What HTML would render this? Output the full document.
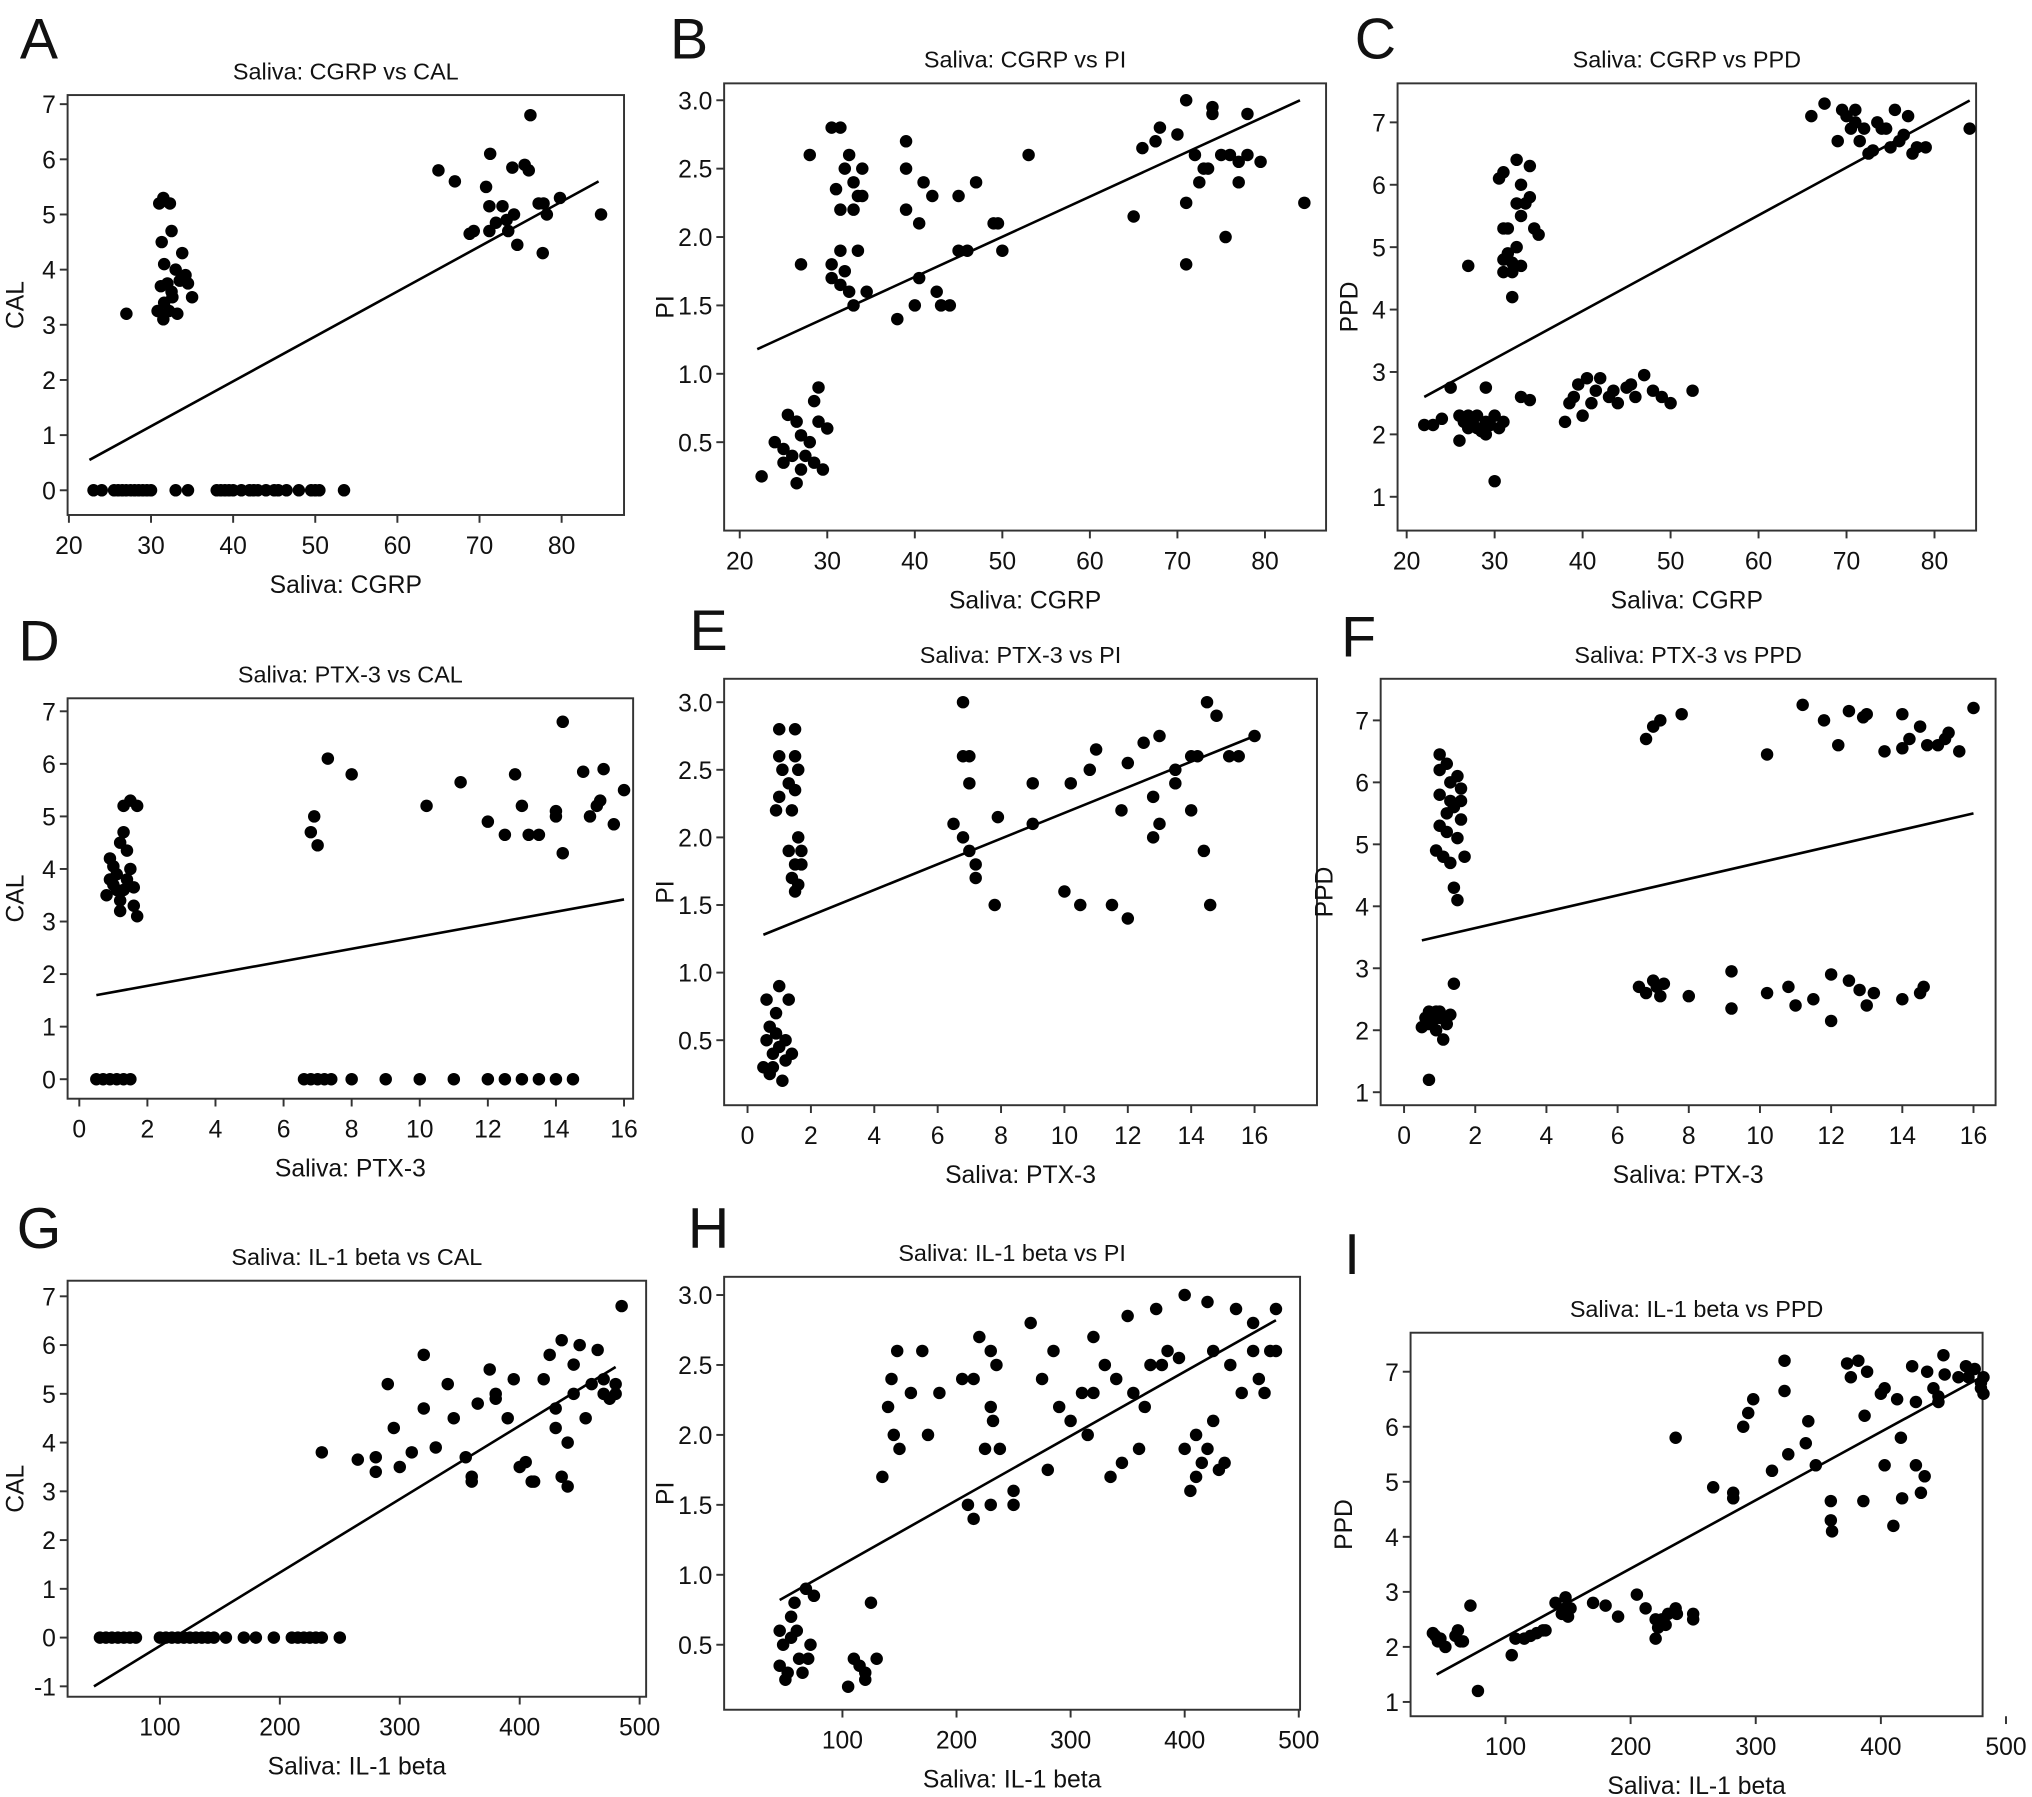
<!DOCTYPE html>
<html><head><meta charset="utf-8"><style>
html,body{margin:0;padding:0;background:#fff}
svg{display:block}
text{font-family:"Liberation Sans",Arial,sans-serif;fill:#111}
</style></head><body>
<svg id="fig" width="2032" height="1797" viewBox="0 0 1563 1382" xmlns="http://www.w3.org/2000/svg"></svg>
<script>
// ---- data ----
const aX=[23,24,25.5,26,26.5,27,27.5,28,28.5,29,29.5,30,33,34.5,38,38.5,39,39.5,40,41,42,42.5,43,44,45,45.5,46.5,48,49.5,50,50.5,53.5,27,31,31.5,32.3,32.5,31.3,31.6,33.8,33,34.2,31.2,32,32.5,33.5,34.5,35,32.6,31.6,30.8,31.5,32.2,33.2,65,67,70.8,71.3,74,75.5,76,76.2,71.2,72.8,73.3,74.2,72,68.8,69.3,71.2,73.5,74.6,77.2,77.8,79.8,78.2,77.7,84.8];
const aY=[0,0,0,0,0,0,0,0,0,0,0,0,0,0,0,0,0,0,0,0,0,0,0,0,0,0,0,0,0,0,0,0,3.2,5.2,5.3,5.2,4.7,4.5,4.1,4.3,4.0,3.9,3.7,3.75,3.6,3.8,3.75,3.5,3.5,3.4,3.25,3.1,3.25,3.2,5.8,5.6,5.5,6.1,5.85,5.9,5.8,6.8,5.15,5.15,4.9,5.0,4.85,4.65,4.7,4.7,4.7,4.45,5.2,5.2,5.3,5.0,4.3,5.0];
const bX=[22.5,24,25,25.5,26,26.5,27,27,27.5,28,28.5,28.5,29,29,29.5,30,25,26.5,27,28,30.5,31.5,31,31.5,32,32.5,33,33.5,34,33,30.5,30.5,31.5,32,32.5,31.5,33,34.5,34,33.5,38,39,39,39,40,40.5,40.5,41,42,42.5,43,44,45,45,46,47,49,49.5,50,53,65,66,67.5,68,70,71,71,71,72,72.5,73,73.5,74,74,75,75.5,76,77,77,78,78,79.5,84.5];
const bY=[0.25,0.5,0.35,0.7,0.4,0.2,0.3,0.55,0.4,0.5,0.35,0.8,0.9,0.65,0.3,0.6,0.45,0.65,1.8,2.6,2.8,2.8,2.35,2.2,2.5,2.6,2.4,2.3,2.5,2.2,1.8,1.7,1.9,1.75,1.6,1.65,1.5,1.6,2.3,1.9,1.4,2.5,2.7,2.2,1.5,2.1,1.7,2.4,2.3,1.6,1.5,1.5,2.3,1.9,1.9,2.4,2.1,2.1,1.9,2.6,2.15,2.65,2.7,2.8,2.75,3.0,2.25,1.8,2.6,2.4,2.5,2.5,2.9,2.95,2.6,2.0,2.6,2.55,2.4,2.6,2.9,2.55,2.25];
const cX=[22,23,24,25,26,26,26.5,27,27,27.5,28,28,28.5,29,29,29.5,30,30,30.5,31,29,27,30.5,31,31,31.5,31,31.5,31,32,32,32.5,32.5,33,32.5,33,33.5,34,34,34.5,35,32,33,33,34,38,38.5,39,39.5,40,40.5,41,41.5,42,43,43.5,44,45,45.5,46,47,48,49,50,52.5,66,67.5,69.5,70,70.5,71,71.5,72,72.5,73,73.5,74,74.5,75,75.5,76,76.5,77,77.5,78,79,84,69,71];
const cY=[2.15,2.15,2.25,2.75,2.3,1.9,2.2,2.3,2.1,2.2,2.1,2.3,2.05,2.75,2.2,2.15,1.25,2.3,2.1,2.2,2.0,4.7,6.1,6.2,5.3,5.3,4.8,4.9,4.6,4.6,4.2,5.0,6.4,6.0,5.7,5.5,5.7,6.3,5.8,5.3,5.2,4.75,4.7,2.6,2.55,2.2,2.5,2.6,2.8,2.3,2.9,2.5,2.7,2.9,2.6,2.7,2.5,2.75,2.8,2.6,2.95,2.7,2.6,2.5,2.7,7.1,7.3,7.2,7.1,6.9,7.0,6.7,6.9,6.5,6.55,7.0,6.9,6.9,6.6,7.2,6.7,6.8,7.1,6.5,6.6,6.6,6.9,6.7,7.2];
const dX=[0.5,0.7,0.9,1.1,1.3,1.5,6.6,6.8,7,7.2,7.4,8,9,10,11,12,12.5,13,13.5,14,14.5,0.8,0.9,0.9,1.0,1.1,1.0,1.2,1.2,1.3,1.2,1.3,1.4,1.4,1.5,1.6,1.6,1.7,1.3,1.5,1.7,1.1,6.8,6.9,7.0,7.3,8.0,10.2,11.2,12,12.5,12.8,13,13.2,13.5,14,14,14.2,14.2,14.8,15,15.2,15.4,15.7,16,15.3];
const dY=[0,0,0,0,0,0,0,0,0,0,0,0,0,0,0,0,0,0,0,0,0,3.5,3.8,4.2,4.05,3.9,3.7,3.4,3.2,3.6,4.5,4.7,4.35,3.8,4.0,3.65,3.3,3.1,5.2,5.3,5.2,3.6,4.7,5.0,4.45,6.1,5.8,5.2,5.65,4.9,4.65,5.8,5.2,4.65,4.65,5.0,5.1,6.8,4.3,5.85,5.0,5.2,5.9,4.85,5.5,5.3];
const eX=[0.5,0.6,0.6,0.7,0.7,0.8,0.9,1.0,1.0,1.1,1.2,1.3,1.2,1.4,0.9,0.8,1.0,1.0,1.0,1.1,0.9,1.3,1.4,1.5,1.5,1.6,1.5,1.3,1.4,1.5,1.6,1.7,1.7,1.6,1.5,6.5,6.8,6.8,7.0,6.8,7.0,7.0,7.2,7.2,7.9,7.8,9.0,9.0,10,10.2,10.5,10.8,11.0,11.5,12,11.8,12,12.5,12.8,12.8,13,13,13.5,13.5,14,14,14.2,14.4,14.5,14.6,14.8,15.2,15.5,16];
const eY=[0.3,0.5,0.8,0.6,0.25,0.4,0.55,0.9,0.45,0.2,0.5,0.8,0.35,0.4,0.7,0.3,2.8,2.6,2.3,2.5,2.2,2.4,2.2,2.8,2.6,2.5,2.35,1.9,1.7,1.8,1.65,1.8,1.9,2.0,1.6,2.1,3.0,2.6,2.6,2.0,1.9,2.4,1.8,1.7,2.15,1.5,2.4,2.1,1.6,2.4,1.5,2.5,2.65,1.5,1.4,2.2,2.55,2.7,2.3,2.0,2.1,2.75,2.4,2.5,2.2,2.6,2.6,1.9,3.0,1.5,2.9,2.6,2.6,2.75];
const fX=[0.5,0.6,0.7,0.7,0.8,0.9,0.9,1.0,1.0,1.1,1.2,1.3,1.4,0.7,1.0,1.0,1.2,1.0,1.3,1.0,1.2,0.9,1.1,1.3,1.5,1.6,1.4,1.6,1.5,1.4,1.5,1.7,1.6,1.3,1.2,6.8,7.0,7.2,7.8,10.2,11.2,11.8,12.2,12.5,12.9,13,13.5,14,14,14.2,14.5,14.7,15,15.2,15.3,15.6,16,6.6,6.8,7.0,7.1,7.2,7.3,8.0,9.2,9.2,10.2,10.8,11,11.5,12,12,12.5,12.8,13,13.2,14,14.5,14.6];
const fY=[2.05,2.2,2.1,2.3,2.15,2.3,2.0,2.2,2.3,1.85,2.1,2.25,2.75,1.2,6.45,6.2,6.3,5.8,5.7,5.3,5.5,4.9,4.8,4.7,6.1,5.9,5.6,5.4,5.1,4.3,4.1,4.8,5.7,6.0,5.2,6.7,6.9,7.0,7.1,6.45,7.25,7.0,6.6,7.15,7.05,7.1,6.5,7.1,6.55,6.7,6.9,6.6,6.6,6.7,6.8,6.5,7.2,2.7,2.6,2.8,2.7,2.55,2.75,2.55,2.95,2.35,2.6,2.7,2.4,2.5,2.9,2.15,2.8,2.65,2.4,2.6,2.5,2.6,2.7];
const gX=[50,55,60,65,70,75,80,100,105,110,115,120,125,130,135,140,145,155,170,180,195,210,215,220,225,230,235,250,235,265,280,280,290,295,300,310,320,320,330,340,345,355,360,360,365,375,380,380,390,395,400,405,410,412,420,425,430,430,435,440,435,440,445,445,450,460,465,470,470,475,480,480,485,455];
const gY=[0,0,0,0,0,0,0,0,0,0,0,0,0,0,0,0,0,0,0,0,0,0,0,0,0,0,0,0,3.8,3.65,3.7,3.4,5.2,4.3,3.5,3.8,4.7,5.8,3.9,5.2,4.5,3.7,3.2,3.3,4.8,5.5,4.9,5.0,4.5,5.3,3.5,3.6,3.2,3.2,5.3,5.8,4.7,4.3,3.3,3.1,6.1,4.0,5.0,5.6,6.0,5.2,5.9,5.0,5.3,4.9,5.2,5.0,6.8,4.5];
const hX=[45,45,48,50,52,55,55,58,60,62,65,68,70,72,75,105,110,115,120,125,130,120,135,140,143,145,148,150,160,170,175,185,205,210,215,215,220,225,230,230,232,235,238,230,250,250,265,275,280,285,290,300,310,315,320,320,330,335,340,345,350,355,360,365,370,375,380,385,395,400,400,405,410,410,415,420,420,425,425,430,435,440,445,450,460,465,470,475,480,480,460];
const hY=[0.6,0.35,0.5,0.25,0.3,0.7,0.55,0.8,0.6,0.4,0.3,0.9,0.4,0.5,0.85,0.2,0.4,0.35,0.25,0.8,0.4,0.3,1.7,2.2,2.4,2.0,2.6,1.9,2.3,2.6,2.0,2.3,2.4,1.5,2.4,1.4,2.7,1.9,2.6,2.2,2.1,2.5,1.9,1.5,1.6,1.5,2.8,2.4,1.75,2.6,2.2,2.1,2.3,2.0,2.7,2.3,2.5,1.7,2.4,1.8,2.85,2.3,1.9,2.2,2.5,2.9,2.5,2.6,2.55,3.0,1.9,1.6,2.0,1.7,1.8,2.95,1.9,2.6,2.1,1.75,1.8,2.5,2.9,2.3,2.6,2.4,2.3,2.6,2.9,2.6,2.8];
const iX=[42,44,46,48,52,60,62,64,66,72,78,105,108,115,120,125,130,132,140,145,148,148,150,152,170,180,190,205,212,220,220,222,225,228,230,236,237,236,250,250,266,282,282,290,294,298,313,323,323,326,340,342,348,360,360,361,373,376,382,386,387,389,400,403,403,413,410,416,417,425,428,428,432,435,437,442,446,446,450,451,462,468,470,475,480,482,482,480];
const iY=[2.25,2.2,2.1,2.15,2.0,2.2,2.3,2.1,2.1,2.75,1.2,1.85,2.15,2.15,2.2,2.25,2.3,2.3,2.8,2.6,2.9,2.7,2.55,2.7,2.8,2.75,2.55,2.95,2.7,2.5,2.15,2.35,2.5,2.4,2.6,2.7,2.6,5.8,2.6,2.5,4.9,4.8,4.7,6.0,6.25,6.5,5.2,7.2,6.65,5.5,5.7,6.1,5.3,4.65,4.3,4.1,7.15,6.9,7.2,4.65,6.2,7.0,6.6,6.7,5.3,6.5,4.2,5.8,4.7,7.1,6.45,5.3,4.8,5.1,7.0,6.7,6.45,6.55,7.3,6.95,6.9,7.1,6.9,7.05,6.8,6.9,6.6,6.7];
// regression line endpoints
const fitAX=[22.5,84.5], fitAY=[0.55,5.6];
const fitBX=[22,84], fitBY=[1.18,3.0];
const fitCX=[22,84], fitCY=[2.6,7.35];
const fitDX=[0.5,16], fitDY=[1.6,3.42];
const fitEX=[0.5,16], fitEY=[1.28,2.75];
const fitFX=[0.5,16], fitFY=[3.45,5.5];
const fitGX=[45,480], fitGY=[-1.0,5.55];
const fitHX=[45,480], fitHY=[0.82,2.82];
const fitIX=[45,480], fitIY=[1.5,6.9];
// tick labels
const tCGRP=[20,30,40,50,60,70,80];
const tPTX=[0,2,4,6,8,10,12,14,16];
const tIL=[100,200,300,400,500];
const tCAL=[0,1,2,3,4,5,6,7];
const tCALg=[-1,0,1,2,3,4,5,6,7];
const tPI=[0.5,1.0,1.5,2.0,2.5,3.0];
const tPPD=[1,2,3,4,5,6,7];

// ---- layout (in 1563x1382 viewBox) ----
const panels=[
 {id:'a',L:'A',lx:30,ly:45,title:'Saliva: CGRP vs CAL',xl:'Saliva: CGRP',yl:'CAL',box:[52,73,480,396],xs:[20,53,80,432],ys:[0,377,7,80],xt:tCGRP,yt:tCAL,dec:0,X:aX,Y:aY,FX:fitAX,FY:fitAY,yLx:18},
 {id:'b',L:'B',lx:530,ly:45,title:'Saliva: CGRP vs PI',xl:'Saliva: CGRP',yl:'PI',box:[557,64,1020,408],xs:[20,569,80,973],ys:[0.5,340,3.0,77],xt:tCGRP,yt:tPI,dec:1,X:bX,Y:bY,FX:fitBX,FY:fitBY,yLx:518},
 {id:'c',L:'C',lx:1058,ly:45,title:'Saliva: CGRP vs PPD',xl:'Saliva: CGRP',yl:'PPD',box:[1075,64,1520,408],xs:[20,1082,80,1488],ys:[1,382,7,94],xt:tCGRP,yt:tPPD,dec:0,X:cX,Y:cY,FX:fitCX,FY:fitCY,yLx:1044},
 {id:'d',L:'D',lx:30,ly:508,title:'Saliva: PTX-3 vs CAL',xl:'Saliva: PTX-3',yl:'CAL',box:[52,537,487,845],xs:[0,61,16,480],ys:[0,830,7,547],xt:tPTX,yt:tCAL,dec:0,X:dX,Y:dY,FX:fitDX,FY:fitDY,yLx:18},
 {id:'e',L:'E',lx:545,ly:500,title:'Saliva: PTX-3 vs PI',xl:'Saliva: PTX-3',yl:'PI',box:[557,522,1013,850],xs:[0,575,16,965],ys:[0.5,800,3.0,540],xt:tPTX,yt:tPI,dec:1,X:eX,Y:eY,FX:fitEX,FY:fitEY,yLx:518},
 {id:'f',L:'F',lx:1045,ly:505,title:'Saliva: PTX-3 vs PPD',xl:'Saliva: PTX-3',yl:'PPD',box:[1062,522,1535,850],xs:[0,1080,16,1518],ys:[1,840,7,554],xt:tPTX,yt:tPPD,dec:0,X:fX,Y:fY,FX:fitFX,FY:fitFY,yLx:1025},
 {id:'g',L:'G',lx:30,ly:960,title:'Saliva: IL-1 beta vs CAL',xl:'Saliva: IL-1 beta',yl:'CAL',box:[52,985,497,1305],xs:[100,123,500,492],ys:[-1,1297,7,997],xt:tIL,yt:tCALg,dec:0,X:gX,Y:gY,FX:fitGX,FY:fitGY,yLx:18},
 {id:'h',L:'H',lx:545,ly:960,title:'Saliva: IL-1 beta vs PI',xl:'Saliva: IL-1 beta',yl:'PI',box:[557,982,1000,1315],xs:[100,648,500,999],ys:[0.5,1265,3.0,996],xt:tIL,yt:tPI,dec:1,X:hX,Y:hY,FX:fitHX,FY:fitHY,yLx:518},
 {id:'i',L:'I',lx:1040,ly:980,title:'Saliva: IL-1 beta vs PPD',xl:'Saliva: IL-1 beta',yl:'PPD',box:[1085,1025,1525,1320],xs:[100,1158,500,1543],ys:[1,1309,7,1055],xt:tIL,yt:tPPD,dec:0,X:iX,Y:iY,FX:fitIX,FY:fitIY,yLx:1040}
];
const NS='http://www.w3.org/2000/svg';
const svg=document.getElementById('fig');
function mk(tag,attrs,parent){const e=document.createElementNS(NS,tag);for(const k in attrs)e.setAttribute(k,attrs[k]);parent.appendChild(e);return e;}
panels.forEach(p=>{
  const g=mk('g',{},svg);
  
  
  const sx=v=>p.xs[1]+(v-p.xs[0])*(p.xs[3]-p.xs[1])/(p.xs[2]-p.xs[0]);
  const sy=v=>p.ys[1]+(v-p.ys[0])*(p.ys[3]-p.ys[1])/(p.ys[2]-p.ys[0]);
  const [x0,y0,x1,y1]=p.box;
  const cx=(x0+x1)/2;
  const letter=mk('text',{x:p.lx,y:p.ly,'font-size':44,'text-anchor':'middle'},g);letter.textContent=p.L;
  
  
  const t=mk('text',{x:cx,y:y0-12,'font-size':18,'text-anchor':'middle'},g);t.textContent=p.title;
  
  
  const box=mk('rect',{x:x0,y:y0,width:x1-x0,height:y1-y0,fill:'none',stroke:'#333','stroke-width':1.5},g);
  
  
  p.xt.forEach(v=>{const x=sx(v);
    mk('line',{x1:x,x2:x,y1:y1,y2:y1+6,stroke:'#333','stroke-width':1.5},g);
    const l=mk('text',{x:x,y:y1+30,'font-size':19,'text-anchor':'middle'},g);l.textContent=v;
    
    });
  p.yt.forEach(v=>{const y=sy(v);
    mk('line',{x1:x0-6,x2:x0,y1:y,y2:y,stroke:'#333','stroke-width':1.5},g);
    const l=mk('text',{x:x0-9,y:y+7,'font-size':19,'text-anchor':'end'},g);l.textContent=p.dec?v.toFixed(1):v;
    
    });
  const xl=mk('text',{x:cx,y:y1+60,'font-size':19,'text-anchor':'middle'},g);xl.textContent=p.xl;
  
  
  const ym=(y0+y1)/2;
  const yl=mk('text',{x:p.yLx,y:ym,'font-size':19,'text-anchor':'middle',transform:`rotate(-90 ${p.yLx} ${ym})`},g);yl.textContent=p.yl;
  
  
  const fit=mk('line',{x1:sx(p.FX[0]),y1:sy(p.FY[0]),x2:sx(p.FX[1]),y2:sy(p.FY[1]),stroke:'#000','stroke-width':2},g);
  
  
  p.X.forEach((v,i)=>{
    const c=mk('circle',{cx:sx(v),cy:sy(p.Y[i]),r:4.8,fill:'#000'},g);
    
    
  });
});
</script>
</body></html>
